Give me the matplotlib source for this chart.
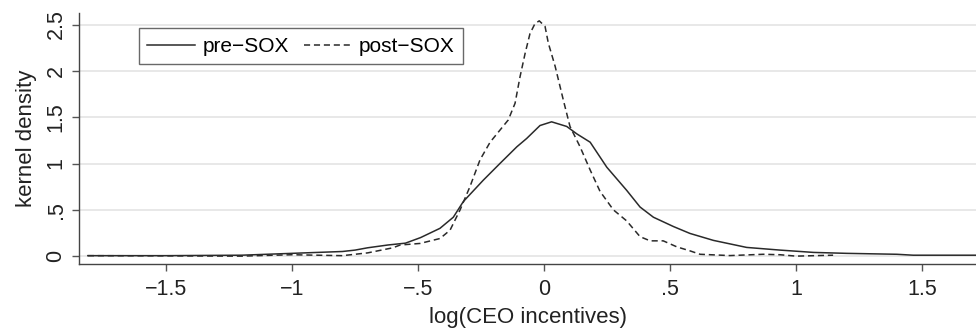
import matplotlib.pyplot as plt
import numpy as np

plt.rcParams['font.family'] = ['Liberation Sans', 'DejaVu Sans']

# kernel density estimates
pre_x = [-1.81, -1.5, -1.2, -1.0, -0.9, -0.8, -0.75, -0.7, -0.62, -0.55, -0.49, -0.413,
         -0.36, -0.32, -0.241, -0.175, -0.108, -0.069, -0.016, 0.03, 0.09, 0.13,
         0.183, 0.249, 0.328, 0.381, 0.434, 0.513, 0.579, 0.672, 0.804, 0.937,
         1.07, 1.2, 1.4, 1.465, 1.714]
pre_y = [0.005, 0.005, 0.01, 0.03, 0.04, 0.05, 0.065, 0.09, 0.12, 0.14, 0.2, 0.30,
         0.42, 0.59, 0.82, 1.00, 1.18, 1.27, 1.41, 1.45, 1.40, 1.32,
         1.23, 0.96, 0.71, 0.53, 0.42, 0.32, 0.245, 0.17, 0.094, 0.065,
         0.04, 0.03, 0.02, 0.01, 0.01]

post_x = [-1.81, -1.5, -1.2, -1.0, -0.8, -0.7, -0.6, -0.571, -0.492, -0.413, -0.373,
          -0.333, -0.294, -0.254, -0.214, -0.175, -0.142, -0.115, -0.095, -0.075,
          -0.056, -0.036, -0.019, 0.004, 0.017, 0.044, 0.077, 0.103, 0.143, 0.183,
          0.222, 0.275, 0.328, 0.381, 0.421, 0.473, 0.527, 0.579, 0.619, 0.738,
          0.87, 0.937, 1.0, 1.147]
post_y = [0.005, 0.003, 0.0, 0.015, 0.005, 0.035, 0.09, 0.12, 0.137, 0.19, 0.28,
          0.50, 0.75, 1.04, 1.23, 1.36, 1.47, 1.65, 1.94, 2.19,
          2.40, 2.51, 2.54, 2.48, 2.30, 2.05, 1.68, 1.40, 1.18, 0.93,
          0.70, 0.50, 0.38, 0.21, 0.165, 0.165, 0.10, 0.057, 0.02, 0.006,
          0.02, 0.015, 0.0, 0.01]

x_ticks = [-1.5, -1, -0.5, 0, 0.5, 1, 1.5]
x_labels = ['\u22121.5', '\u22121', '\u2212.5', '0', '.5', '1', '1.5']
y_ticks = [0, 0.5, 1, 1.5, 2, 2.5]
y_labels = ['0', '.5', '1', '1.5', '2', '2.5']

fig = plt.figure(figsize=(9.76, 3.36), dpi=100)
ax = fig.add_axes([0.081, 0.214, 0.919, 0.746])

ax.plot(pre_x, pre_y, color='#2a2a2a', lw=1.1, label='pre\u2212SOX')
ax.plot(post_x, post_y, color='#2a2a2a', lw=1.1, dashes=(4, 2.5), label='post\u2212SOX')

ax.set_xlim(-1.845, 1.714)
ax.set_ylim(-0.086, 2.62)

ax.set_xticks(x_ticks)
ax.set_xticklabels(x_labels, fontsize=15.5)
ax.set_yticks(y_ticks)
ax.set_yticklabels(y_labels, fontsize=15.5, rotation=90, va='center')

ax.set_axisbelow(True)
ax.yaxis.grid(True, color='#e6e6e6', lw=1.3)
ax.xaxis.grid(False)

for side in ['top', 'right']:
    ax.spines[side].set_visible(False)
for side in ['left', 'bottom']:
    ax.spines[side].set_color('#444444')
    ax.spines[side].set_linewidth(1.0)
ax.tick_params(direction='out', length=5, width=1, color='#555555', labelcolor='#222222')
ax.tick_params(axis='x', pad=6)
ax.tick_params(axis='y', pad=4)

ax.set_xlabel('log(CEO incentives)', fontsize=16, color='#222222', labelpad=5)
ax.set_ylabel('kernel density', fontsize=16, color='#222222', labelpad=6)

leg = ax.legend(loc='upper left', bbox_to_anchor=(0.067, 0.94), ncol=2, fontsize=15,
                frameon=True, fancybox=False, handlelength=2.3, handletextpad=0.35,
                columnspacing=0.7, borderpad=0.4, borderaxespad=0)
leg.get_frame().set_edgecolor('#444444')
leg.get_frame().set_linewidth(1.0)

plt.savefig('out.png', dpi=100)
